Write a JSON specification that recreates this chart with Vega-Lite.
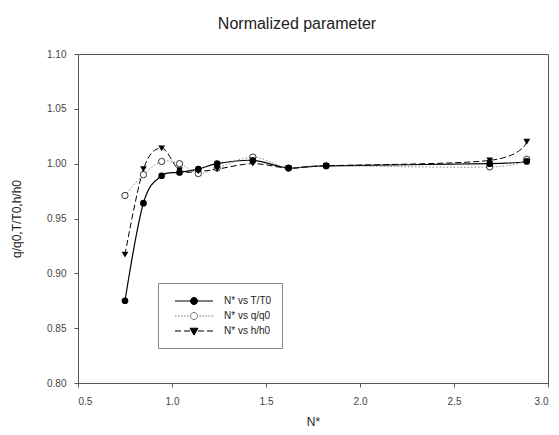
{
  "$schema": "https://vega.github.io/schema/vega-lite/v6.json",
  "autosize": "none",
  "width": 470,
  "height": 329,
  "padding": {"left": 78, "top": 54, "right": 11, "bottom": 52},
  "background": "white",
  "title": {"text": "Normalized parameter", "font": "Liberation Sans", "fontSize": 16, "fontWeight": "normal", "color": "#222", "offset": 17, "dx": -16},
  "config": {
    "view": {"stroke": "#555", "strokeWidth": 1},
    "axis": {"grid": false, "domainColor": "#555", "tickColor": "#555", "labelColor": "#444", "labelFont": "Liberation Sans", "labelFontSize": 10, "tickSize": 4, "titleFont": "Liberation Sans", "titleFontSize": 12, "titleFontWeight": "normal", "titleColor": "#222"}
  },
  "data": {"values": [
    {"N": 0.75, "series": "N* vs T/T0", "value": 0.875},
    {"N": 0.848, "series": "N* vs T/T0", "value": 0.964},
    {"N": 0.945, "series": "N* vs T/T0", "value": 0.989},
    {"N": 1.04, "series": "N* vs T/T0", "value": 0.992},
    {"N": 1.14, "series": "N* vs T/T0", "value": 0.995},
    {"N": 1.24, "series": "N* vs T/T0", "value": 1.0},
    {"N": 1.43, "series": "N* vs T/T0", "value": 1.003},
    {"N": 1.62, "series": "N* vs T/T0", "value": 0.996},
    {"N": 1.82, "series": "N* vs T/T0", "value": 0.998},
    {"N": 2.69, "series": "N* vs T/T0", "value": 1.0},
    {"N": 2.887, "series": "N* vs T/T0", "value": 1.002},
    {"N": 0.75, "series": "N* vs q/q0", "value": 0.971},
    {"N": 0.848, "series": "N* vs q/q0", "value": 0.99},
    {"N": 0.945, "series": "N* vs q/q0", "value": 1.002},
    {"N": 1.04, "series": "N* vs q/q0", "value": 1.0},
    {"N": 1.14, "series": "N* vs q/q0", "value": 0.991},
    {"N": 1.24, "series": "N* vs q/q0", "value": 0.996},
    {"N": 1.43, "series": "N* vs q/q0", "value": 1.006},
    {"N": 1.62, "series": "N* vs q/q0", "value": 0.996},
    {"N": 1.82, "series": "N* vs q/q0", "value": 0.998},
    {"N": 2.69, "series": "N* vs q/q0", "value": 0.997},
    {"N": 2.887, "series": "N* vs q/q0", "value": 1.004},
    {"N": 0.75, "series": "N* vs h/h0", "value": 0.917},
    {"N": 0.848, "series": "N* vs h/h0", "value": 0.995},
    {"N": 0.945, "series": "N* vs h/h0", "value": 1.014},
    {"N": 1.04, "series": "N* vs h/h0", "value": 0.994},
    {"N": 1.14, "series": "N* vs h/h0", "value": 0.993},
    {"N": 1.24, "series": "N* vs h/h0", "value": 0.995},
    {"N": 1.43, "series": "N* vs h/h0", "value": 1.0},
    {"N": 1.62, "series": "N* vs h/h0", "value": 0.996},
    {"N": 1.82, "series": "N* vs h/h0", "value": 0.998},
    {"N": 2.69, "series": "N* vs h/h0", "value": 1.003},
    {"N": 2.887, "series": "N* vs h/h0", "value": 1.02}
  ]},
  "encoding": {
    "x": {"field": "N", "type": "quantitative", "scale": {"domain": [0.5, 3.0], "nice": false}, "axis": {"values": [0.5, 1.0, 1.5, 2.0, 2.5, 3.0], "format": ".1f", "title": "N*", "titlePadding": 10, "labelPadding": 9}},
    "y": {"field": "value", "type": "quantitative", "scale": {"domain": [0.8, 1.1], "nice": false, "zero": false}, "axis": {"values": [0.8, 0.85, 0.9, 0.95, 1.0, 1.05, 1.1], "format": ".2f", "title": "q/q0,T/T0,h/h0", "titlePadding": 23, "labelPadding": 8}}
  },
  "layer": [
    {"transform": [{"filter": "datum.series === 'N* vs T/T0'"}], "mark": {"type": "line", "interpolate": "cardinal", "color": "black", "strokeWidth": 1.2}},
    {"transform": [{"filter": "datum.series === 'N* vs q/q0'"}], "mark": {"type": "line", "interpolate": "cardinal", "color": "#888", "strokeWidth": 1, "strokeDash": [1.5, 2]}},
    {"transform": [{"filter": "datum.series === 'N* vs h/h0'"}], "mark": {"type": "line", "interpolate": "cardinal", "color": "black", "strokeWidth": 1, "strokeDash": [6, 3]}},
    {"transform": [{"filter": "datum.series === 'N* vs q/q0'"}], "mark": {"type": "point", "shape": "circle", "size": 40, "filled": true, "fill": "white", "stroke": "#333", "strokeWidth": 1, "opacity": 1}},
    {"transform": [{"filter": "datum.series === 'N* vs h/h0'"}], "mark": {"type": "point", "shape": "triangle-down", "size": 45, "filled": true, "color": "black", "opacity": 1}},
    {"transform": [{"filter": "datum.series === 'N* vs T/T0'"}], "mark": {"type": "point", "shape": "circle", "size": 45, "filled": true, "color": "black", "opacity": 1}},
    {"mark": {"type": "point", "opacity": 0},
     "encoding": {
       "shape": {"field": "series", "type": "nominal",
         "scale": {"domain": ["N* vs T/T0", "N* vs q/q0", "N* vs h/h0"],
                   "range": ["M-0.13,0L4.93,0M2.87,0A0.47,0.47,0,1,1,1.93,0A0.47,0.47,0,1,1,2.87,0Z",
                             "M-0.13,0L0.07,0M0.27,0L0.47,0M0.67,0L0.87,0M1.07,0L1.27,0M1.47,0L1.67,0M3.13,0L3.33,0M3.53,0L3.73,0M3.93,0L4.13,0M4.33,0L4.53,0M4.73,0L4.93,0M2.87,0A0.47,0.47,0,1,1,1.93,0A0.47,0.47,0,1,1,2.87,0Z",
                             "M-0.13,0L0.67,0M1.07,0L1.87,0M2.93,0L3.73,0M4.13,0L4.93,0M1.87,-0.37L2.93,-0.37L2.4,0.55Z"]},
         "legend": {"title": null, "orient": "none", "legendX": 80, "legendY": 229, "symbolSize": 225, "symbolStrokeWidth": 1, "symbolOpacity": 1, "strokeColor": "#888", "padding": 10, "labelFont": "Liberation Sans", "labelFontSize": 10, "labelColor": "#222", "labelOffset": 40, "rowPadding": 1}},
       "fill": {"field": "series", "type": "nominal", "scale": {"domain": ["N* vs T/T0", "N* vs q/q0", "N* vs h/h0"], "range": ["black", "white", "black"]}},
       "stroke": {"field": "series", "type": "nominal", "scale": {"domain": ["N* vs T/T0", "N* vs q/q0", "N* vs h/h0"], "range": ["black", "#777", "black"]}}
     }}
  ]
}
